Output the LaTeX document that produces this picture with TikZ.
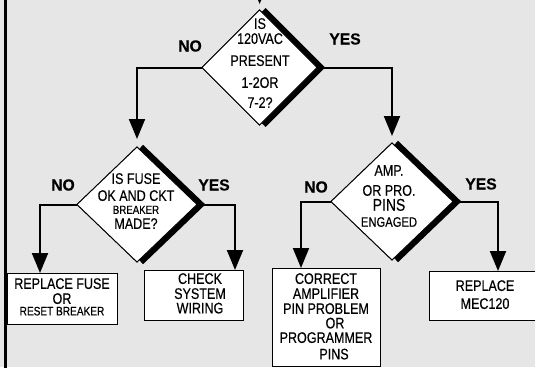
\documentclass[tikz,border=0pt]{standalone}
\usepackage{fontspec}
\setmainfont{Liberation Sans}[FakeStretch=0.82,FakeBold=0.35]
\newfontfamily\lblfont{Liberation Sans}[FakeStretch=0.98,FakeBold=0.3]
\usetikzlibrary{shapes.geometric,arrows.meta,calc}
\newcommand\fsz[2]{\fontsize{#1}{#2}\selectfont}
\definecolor{bggray}{HTML}{E6E6E6}
\tikzset{
  dia/.style={diamond, draw=black, line width=0.9pt, fill=white, inner sep=0pt, outer sep=0pt},
  shade/.style={line width=6pt, line join=miter, line cap=butt, black},
  box/.style={rectangle, draw=black, line width=1pt, fill=white, inner sep=0pt, outer sep=0pt},
  conn/.style={line width=2pt, -{Triangle[length=20pt,width=16pt]}},
  txt/.style={align=center, inner sep=0pt, anchor=north, font=\fsz{15.3}{15}},
  lbl/.style={inner sep=0pt, font=\lblfont\fsz{16}{18}\bfseries}
}
\begin{document}
\begin{tikzpicture}[x=1pt,y=-1pt]
\useasboundingbox (0,0) rectangle (535,367);
\clip (0,0) rectangle (535,367);
\fill[bggray] (0,0) rectangle (535,367);
\draw[line width=3pt] (5.5,-1) -- (5.5,368);

% diamonds (positions)
\node[dia, minimum width=115pt, minimum height=115pt] (d1) at (259.5,67.5) {};
\node[dia, minimum width=120pt, minimum height=115pt] (d2) at (137,204.5) {};
\node[dia, minimum width=122pt, minimum height=117pt] (d3) at (392,201.5) {};

% boxes
\node[box, minimum width=110pt, minimum height=51pt] (b1) at (62,298.5) {};
\node[box, minimum width=99pt, minimum height=50pt] (b2) at (193.5,295) {};
\node[box, minimum width=108pt, minimum height=98.5pt] (b3) at (326,317.25) {};
\node[box, minimum width=116pt, minimum height=49pt] (b4) at (487,295.5) {};

% connectors
\coordinate (in0) at (260,-30);
\draw[conn, shorten >=6pt] (in0) -- (d1.north);
\draw[conn, shorten >=8pt] (d1.west) -| (d2.north);
\draw[conn, shorten >=7pt] (d1.east) -| (d3.north);
\draw[conn] (d2.west) -| ($(b1.north west)+(33,0)$);
\draw[conn] (d2.east) -| ($(b2.north east)+(-8,0)$);
\draw[conn] (d3.west) -| ($(b3.north west)+(29,0)$);
\draw[conn] (d3.east) -| ($(b4.north west)+(69,0)$);

% shadows
\foreach \d in {d1,d2,d3}{
  \draw[shade] ($(\d.north)+(4,0)$) -- ($(\d.east)+(4,0)$) -- ($(\d.south)+(4,0)$);
}
% redraw diamonds on top of shadows
\node[dia, minimum width=115pt, minimum height=115pt] (d1f) at (d1) {};
\node[dia, minimum width=120pt, minimum height=115pt] (d2f) at (d2) {};
\node[dia, minimum width=122pt, minimum height=117pt] (d3f) at (d3) {};

% diamond texts
\node[txt] (t1) at (260,18) {IS\\120VAC\\[7pt]PRESENT\\[7pt]1-2OR\\[5pt]7-2?};
\node[txt] (t2) at (136,173) {IS FUSE\\[2pt]OK AND CKT\\[-2pt]{\fsz{11.8}{15}BREAKER}\\MADE?};
\node[txt] (t3) at (389,165) {AMP.\\[5pt]OR PRO.\\{\fsz{17}{15}PINS}\\[1pt]{\fsz{13.7}{15}ENGAGED}};

% box texts
\node[txt] (tb1) at (62,278) {REPLACE FUSE\\OR\\[-3.5pt]{\fsz{12.3}{15}RESET BREAKER}};
\node[txt] (tb2) at (200,273) {CHECK\\SYSTEM\\[-0.5pt]WIRING};
\node[txt] (tb3) at (326,273) {CORRECT\\AMPLIFIER\\PIN PROBLEM\\[-0.5pt]\hspace*{18pt}OR\\[-0.5pt]PROGRAMMER\\[1.5pt]\hspace*{16pt}PINS};
\node[txt] (tb4) at (485,280) {REPLACE\\[3pt]MEC120};

% labels
\node[lbl] (n1) at (190,46) {NO};
\node[lbl] (y1) at (345,39) {YES};
\node[lbl] (n2) at (63,185) {NO};
\node[lbl] (y2) at (214,185) {YES};
\node[lbl] (n3) at (316,187) {NO};
\node[lbl] (y3) at (481,184) {YES};
\end{tikzpicture}
\end{document}
